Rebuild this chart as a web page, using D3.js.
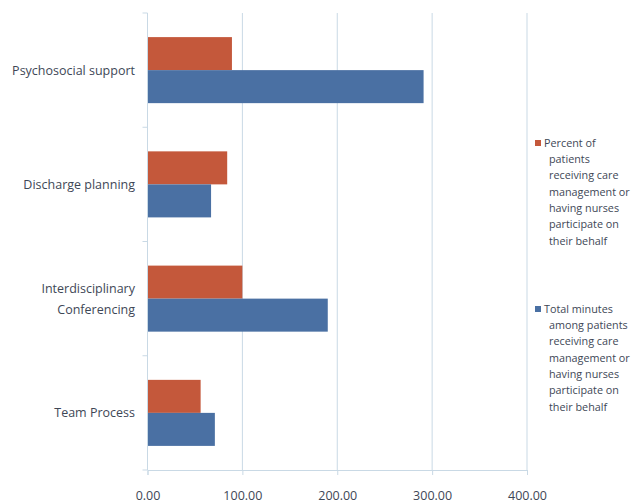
<!DOCTYPE html>
<html>
<head>
<meta charset="utf-8">
<script src="https://cdn.jsdelivr.net/npm/d3@7"></script>
<style>
  html, body { margin: 0; padding: 0; background: #ffffff; }
  svg { display: block; }
  text { font-family: "Open Sans", "DejaVu Sans", sans-serif; }
</style>
</head>
<body>
<svg id="chart" width="633" height="503"></svg>
<script>
// Care activities and their two measures
const categories = [
  ["Psychosocial support"],
  ["Discharge planning"],
  ["Interdisciplinary", "Conferencing"],
  ["Team Process"]
];
const percentPatients = [89, 84, 100, 56];
const totalMinutes = [291, 67, 190, 71];
const seriesNames = [
  ["Percent of", "patients", "receiving care", "management or", "having nurses", "participate on", "their behalf"],
  ["Total minutes", "among patients", "receiving care", "management or", "having nurses", "participate on", "their behalf"]
];
const xTicks = [0, 100, 200, 300, 400];

const colors = ["#c4583b", "#4a70a3"];
const gridColor = "#c9d9e5";
const textColor = "#3e4756";

const svg = d3.select("#chart");
const plot = { left: 147.5, right: 527, top: 13, bottom: 470 };

const catKeys = categories.map(c => c.join(" "));
const x = d3.scaleLinear().domain([0, 400]).range([plot.left, plot.right]);
const y = d3.scaleBand().domain(catKeys).range([plot.top, plot.bottom])
  .paddingInner(0.422).paddingOuter(0.211);
const ySub = d3.scaleBand().domain([0, 1]).range([0, y.bandwidth()]);

// vertical gridlines
svg.append("g").selectAll("line").data(xTicks.slice(1)).join("line")
  .attr("x1", d => x(d)).attr("x2", d => x(d))
  .attr("y1", plot.top).attr("y2", plot.bottom)
  .attr("stroke", gridColor).attr("stroke-width", 1);

// bars
const rows = catKeys.map((k, i) => ({ key: k, values: [percentPatients[i], totalMinutes[i]] }));
const groups = svg.append("g").selectAll("g").data(rows).join("g")
  .attr("transform", d => `translate(0,${y(d.key)})`);
groups.selectAll("rect").data(d => d.values.map((v, s) => ({ v, s }))).join("rect")
  .attr("x", x(0))
  .attr("y", d => ySub(d.s))
  .attr("width", d => x(d.v) - x(0))
  .attr("height", ySub.bandwidth())
  .attr("fill", d => colors[d.s]);

// x axis
const xAxis = d3.axisBottom(x).tickValues(xTicks).tickFormat(d3.format(".2f")).tickSize(5).tickPadding(16);
const gx = svg.append("g").attr("transform", `translate(0,${plot.bottom})`).call(xAxis);
gx.select(".domain").attr("stroke", gridColor);
gx.selectAll(".tick line").attr("stroke", gridColor);
gx.selectAll(".tick text").attr("fill", textColor).attr("font-size", "12.5px")
  .style("font-family", "'Open Sans', sans-serif");

// y axis line with small ticks between categories
svg.append("line")
  .attr("x1", x(0)).attr("x2", x(0)).attr("y1", plot.top).attr("y2", plot.bottom)
  .attr("stroke", gridColor);
const step = y.step();
svg.append("g").selectAll("line").data(d3.range(catKeys.length + 1)).join("line")
  .attr("x1", x(0) - 5).attr("x2", x(0))
  .attr("y1", i => plot.top + i * step).attr("y2", i => plot.top + i * step)
  .attr("stroke", gridColor);

// category labels
const labels = svg.append("g").selectAll("text").data(categories).join("text")
  .attr("x", 135)
  .attr("text-anchor", "end")
  .attr("fill", textColor)
  .attr("font-size", "12.5px");
labels.each(function(lines, i) {
  const cy = y(catKeys[i]) + y.bandwidth() / 2;
  const lh = 21;
  const y0 = cy - (lines.length - 1) * lh / 2;
  d3.select(this).selectAll("tspan").data(lines).join("tspan")
    .attr("x", 135)
    .attr("y", (d, j) => y0 + j * lh)
    .attr("dy", "0.35em")
    .text(d => d);
});

// legend
const legendTop = [143, 309];
const legend = svg.append("g").selectAll("g").data(seriesNames).join("g")
  .attr("transform", (d, i) => `translate(535,${legendTop[i]})`);
legend.append("rect")
  .attr("x", 0).attr("y", -3).attr("width", 6).attr("height", 6)
  .attr("fill", (d, i) => colors[i]);
legend.append("text")
  .attr("fill", textColor)
  .attr("font-size", "10.8px")
  .selectAll("tspan").data(d => d).join("tspan")
  .attr("x", (d, j) => j === 0 ? 9 : 14)
  .attr("y", (d, j) => j * 16.3)
  .attr("dy", "0.35em")
  .text(d => d);
</script>
</body>
</html>
